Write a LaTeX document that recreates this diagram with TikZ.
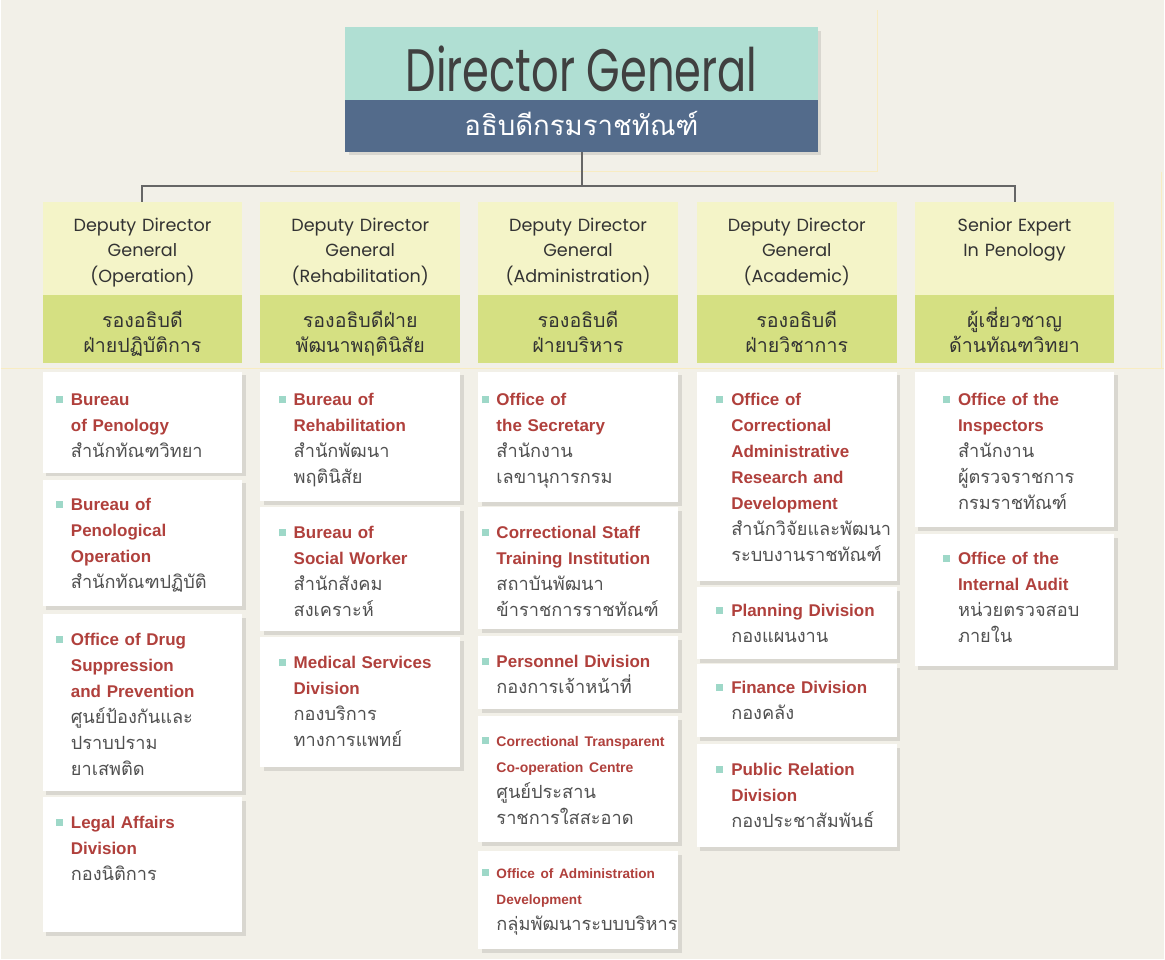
\documentclass[tikz,border=0pt]{standalone}
\usepackage{fontspec}
\setmainfont{Liberation Sans}
\newfontfamily\thaifont[Script=Thai]{Loma}
\newfontfamily\headfont{Poppins}
\newfontfamily\dgfont[FakeStretch=0.72]{Poppins}
\usetikzlibrary{positioning,shadows}
\definecolor{bgbeige}{HTML}{F2F0E8}
\definecolor{dgteal}{HTML}{B0DFD3}
\definecolor{dgblue}{HTML}{536B8B}
\definecolor{deplight}{HTML}{F4F4C8}
\definecolor{depgreen}{HTML}{D5E082}
\definecolor{unitred}{HTML}{B0403C}
\definecolor{sqteal}{HTML}{9ED8C8}
\definecolor{thaigray}{HTML}{505050}
\definecolor{txtdark}{HTML}{333333}
\definecolor{guideyellow}{HTML}{F8ECC2}
\newcommand{\sq}{\noindent\rule{0pt}{10pt}\llap{\textcolor{sqteal}{\rule[1.3pt]{3.5pt}{3.5pt}}\hspace{4pt}}}
\newcommand{\eng}[1]{{\color{unitred}\bfseries #1}}
\newcommand{\thi}[1]{{\color{thaigray}\thaifont\fontsize{9.1}{13}\selectfont #1}}

\begin{document}
\begin{tikzpicture}[x=0.5pt,y=-0.5pt,
    shade box/.style={drop shadow={shadow xshift=1.8pt,shadow yshift=-1.8pt,fill=black,opacity=0.1}},
    dgtop/.style={fill=dgteal,minimum width=236.5pt,minimum height=36.5pt,inner sep=0pt,outer sep=0pt,shade box},
    dgbot/.style={fill=dgblue,minimum width=236.5pt,minimum height=26pt,inner sep=0pt,outer sep=0pt,shade box},
    dep/.style={fill=deplight,minimum width=100pt,minimum height=46.5pt,inner sep=0pt,outer sep=0pt},
    depg/.style={fill=depgreen,minimum width=100pt,minimum height=34pt,inner sep=0pt,outer sep=0pt},
    deptext/.style={anchor=north,inner sep=0pt,text width=100pt,align=center,text=txtdark,font=\headfont\fontsize{8.8}{12.75}\selectfont},
    depthai/.style={anchor=north,inner sep=0pt,text width=100pt,align=center,text=txtdark,font=\thaifont\fontsize{9.8}{12.5}\selectfont},
    unit/.style={fill=white,anchor=north west,minimum width=100pt,inner sep=0pt,outer sep=0pt,shade box},
    utext/.style={anchor=north west,inner sep=0pt,text width=95pt,align=left,font=\fontsize{8.5}{13}\selectfont},
    link/.style={draw=black!60,line width=1pt},
    guide/.style={draw=guideyellow,line width=0.6pt}
  ]
  \fill[bgbeige] (0,0) rectangle (1165,960);
  \draw[guide] (290,172) -- (878,172) -- (878,10);
  \draw[guide] (1162,172) -- (1162,369);
  \draw[guide] (0,369) -- (1165,369);

  % director general
  \node[dgtop] (dg) at (581.5,63.5) {};
  \node[dgbot] (dgb) at (581.5,126) {};
  \node[anchor=base,inner sep=0pt,text=black!75,font=\dgfont\fontsize{30}{30}\selectfont] (dgt) at (581.5,92) {Director General};
  \node[anchor=base,inner sep=0pt,text=white,font=\thaifont\fontsize{13.8}{15}\selectfont] (dgbt) at (581.5,136) {อธิบดีกรมราชทัณฑ์};

  % deputies
  \node[dep] (d1) at (142,248.5) {};
  \node[depg] (d1g) at (142,329) {};
  \node[dep] (d2) at (360,248.5) {};
  \node[depg] (d2g) at (360,329) {};
  \node[dep] (d3) at (578,248.5) {};
  \node[depg] (d3g) at (578,329) {};
  \node[dep] (d4) at (797,248.5) {};
  \node[depg] (d4g) at (797,329) {};
  \node[dep] (d5) at (1015,248.5) {};
  \node[depg] (d5g) at (1015,329) {};

  \node[deptext] (d1t) at ([shift={(0,9)}]d1.north) {\rule{0pt}{10pt}Deputy Director\\General\\(Operation)};
  \node[deptext] (d2t) at ([shift={(0,9)}]d2.north) {\rule{0pt}{10pt}Deputy Director\\General\\(Rehabilitation)};
  \node[deptext] (d3t) at ([shift={(0,9)}]d3.north) {\rule{0pt}{10pt}Deputy Director\\General\\(Administration)};
  \node[deptext] (d4t) at ([shift={(0,9)}]d4.north) {\rule{0pt}{10pt}Deputy Director\\General\\(Academic)};
  \node[deptext] (d5t) at ([shift={(0,9)}]d5.north) {\rule{0pt}{10pt}Senior Expert\\In Penology};

  \node[depthai] (d1th) at ([shift={(0,12)}]d1g.north) {\rule{0pt}{10pt}รองอธิบดี\\ฝ่ายปฏิบัติการ};
  \node[depthai] (d2th) at ([shift={(0,12)}]d2g.north) {\rule{0pt}{10pt}รองอธิบดีฝ่าย\\พัฒนาพฤตินิสัย};
  \node[depthai] (d3th) at ([shift={(0,12)}]d3g.north) {\rule{0pt}{10pt}รองอธิบดี\\ฝ่ายบริหาร};
  \node[depthai] (d4th) at ([shift={(0,12)}]d4g.north) {\rule{0pt}{10pt}รองอธิบดี\\ฝ่ายวิชาการ};
  \node[depthai] (d5th) at ([shift={(0,12)}]d5g.north) {\rule{0pt}{10pt}ผู้เชี่ยวชาญ\\ด้านทัณฑวิทยา};

  \coordinate (bar) at (581.5,186);
  \draw[link] (dgb.south) -- (bar);
  \draw[link] (d1.north) |- (bar) -| (d5.north);

  % operation
  \node[unit,minimum height=50.5pt] (op1) at (42,372) {};
  \node[utext] (op1t) at ([shift={(28,14)}]op1.north west) {\sq\eng{Bureau\\of Penology}\\\thi{สำนักทัณฑวิทยา}};
  \node[unit,minimum height=63.5pt] (op2) at (42,480) {};
  \node[utext] (op2t) at ([shift={(28,11)}]op2.north west) {\sq\eng{Bureau of\\Penological\\Operation}\\\thi{สำนักทัณฑปฏิบัติ}};
  \node[unit,minimum height=88.5pt] (op3) at (42,615) {};
  \node[utext] (op3t) at ([shift={(28,11)}]op3.north west) {\sq\eng{Office of Drug\\Suppression\\and Prevention}\\\thi{ศูนย์ป้องกันและ\\ปราบปราม\\ยาเสพติด}};
  \node[unit,minimum height=67.5pt] (op4) at (42,798) {};
  \node[utext] (op4t) at ([shift={(28,11)}]op4.north west) {\sq\eng{Legal Affairs\\Division}\\\thi{กองนิติการ}};

  % rehabilitation
  \node[unit,minimum height=65pt] (rh1) at (260,372) {};
  \node[utext] (rh1t) at ([shift={(33,14)}]rh1.north west) {\sq\eng{Bureau of\\Rehabilitation}\\\thi{สำนักพัฒนา\\พฤตินิสัย}};
  \node[unit,minimum height=62pt] (rh2) at (260,508) {};
  \node[utext] (rh2t) at ([shift={(33,11)}]rh2.north west) {\sq\eng{Bureau of\\Social Worker}\\\thi{สำนักสังคม\\สงเคราะห์}};
  \node[unit,minimum height=65pt] (rh3) at (260,638) {};
  \node[utext] (rh3t) at ([shift={(33,11)}]rh3.north west) {\sq\eng{Medical Services\\Division}\\\thi{กองบริการ\\ทางการแพทย์}};

  % administration
  \node[unit,minimum height=65.5pt] (ad1) at (478,372) {};
  \node[utext] (ad1t) at ([shift={(18,14)}]ad1.north west) {\sq\eng{Office of\\the Secretary}\\\thi{สำนักงาน\\เลขานุการกรม}};
  \node[unit,minimum height=61pt] (ad2) at (478,508) {};
  \node[utext] (ad2t) at ([shift={(18,11)}]ad2.north west) {\sq\eng{Correctional Staff\\Training Institution}\\\thi{สถาบันพัฒนา\\ข้าราชการราชทัณฑ์}};
  \node[unit,minimum height=36.5pt] (ad3) at (478,637) {};
  \node[utext] (ad3t) at ([shift={(18,11)}]ad3.north west) {\sq\eng{Personnel Division}\\\thi{กองการเจ้าหน้าที่}};
  \node[unit,minimum height=63pt] (ad4) at (478,717) {};
  \node[utext] (ad4t) at ([shift={(18,10)}]ad4.north west) {\sq\eng{\fontsize{7}{13}\selectfont Correctional Transparent\\Co-operation Centre}\\\thi{ศูนย์ประสาน\\ราชการใสสะอาด}};
  \node[unit,minimum height=49pt] (ad5) at (478,852) {};
  \node[utext] (ad5t) at ([shift={(18,7)}]ad5.north west) {\sq\eng{\fontsize{6.8}{13}\selectfont Office of Administration\\Development}\\\thi{กลุ่มพัฒนาระบบบริหาร}};

  % academic
  \node[unit,minimum height=105pt] (ac1) at (697,372) {};
  \node[utext] (ac1t) at ([shift={(34,14)}]ac1.north west) {\sq\eng{Office of\\Correctional\\Administrative\\Research and\\Development}\\\thi{สำนักวิจัยและพัฒนา\\ระบบงานราชทัณฑ์}};
  \node[unit,minimum height=36pt] (ac2) at (697,588) {};
  \node[utext] (ac2t) at ([shift={(34,9)}]ac2.north west) {\sq\eng{Planning Division}\\\thi{กองแผนงาน}};
  \node[unit,minimum height=36.5pt] (ac3) at (697,665) {};
  \node[utext] (ac3t) at ([shift={(34,9)}]ac3.north west) {\sq\eng{Finance Division}\\\thi{กองคลัง}};
  \node[unit,minimum height=51.5pt] (ac4) at (697,745) {};
  \node[utext] (ac4t) at ([shift={(34,11)}]ac4.north west) {\sq\eng{Public Relation\\Division}\\\thi{กองประชาสัมพันธ์}};

  % senior expert
  \node[unit,minimum height=78pt] (sx1) at (915,372) {};
  \node[utext] (sx1t) at ([shift={(43,14)}]sx1.north west) {\sq\eng{Office of the\\Inspectors}\\\thi{สำนักงาน\\ผู้ตรวจราชการ\\กรมราชทัณฑ์}};
  \node[unit,minimum height=66pt] (sx2) at (915,535) {};
  \node[utext] (sx2t) at ([shift={(43,10)}]sx2.north west) {\sq\eng{Office of the\\Internal Audit}\\\thi{หน่วยตรวจสอบ\\ภายใน}};
\end{tikzpicture}
\end{document}
